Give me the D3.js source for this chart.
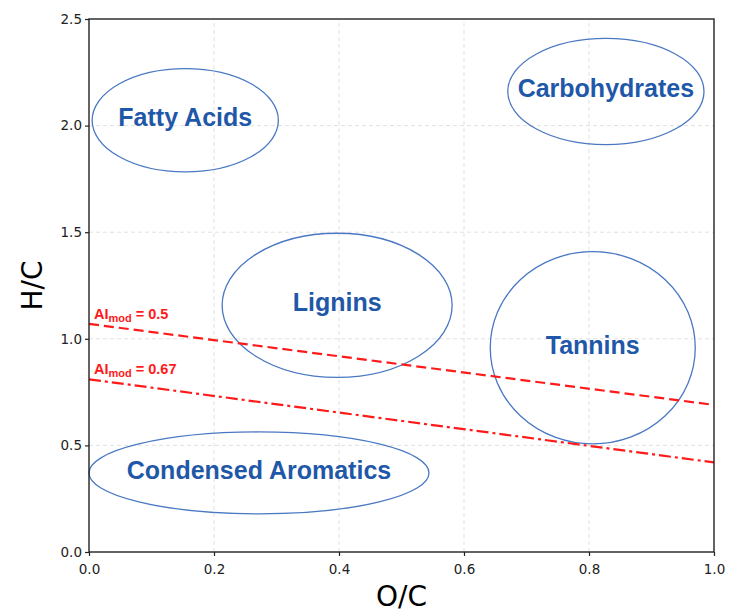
<!DOCTYPE html>
<html>
  <head>
    <meta charset="utf-8">
    <title></title>
    <style>
      body { margin: 0; background: #fff; }
      text { font-family: "DejaVu Sans", sans-serif; }
    </style>
  </head>
  <body>
    <div id="chart"></div>
    <script src="https://d3js.org/d3.v7.min.js"></script>
    <script>
      // compound classes drawn as ellipses (centre + radii in O/C, H/C units)
      const regions = ['Fatty Acids', 'Carbohydrates', 'Lignins', 'Tannins', 'Condensed Aromatics']
      const regionCx = [0.154, 0.827, 0.397, 0.806, 0.272]
      const regionCy = [2.025, 2.16, 1.157, 0.958, 0.371]
      const regionRx = [0.149, 0.157, 0.184, 0.164, 0.272]
      const regionRy = [0.242, 0.249, 0.338, 0.451, 0.192]

      // AImod threshold lines
      const aiValues = ['0.5', '0.67']
      const aiStart = [1.07, 0.81]   // H/C at O/C = 0
      const aiEnd = [0.69, 0.42]     // H/C at O/C = 1

      const xTicks = [0, 0.2, 0.4, 0.6, 0.8, 1.0]
      const yTicks = [0, 0.5, 1.0, 1.5, 2.0, 2.5]

      const width = 730
      const height = 615
      const margin = {top: 19, right: 16, bottom: 63, left: 89}

      const svg = d3.select('#chart')
                    .append('svg')
                    .attr('width', width)
                    .attr('height', height)

      const x = d3.scaleLinear().domain([0, 1]).range([margin.left, width - margin.right])
      const y = d3.scaleLinear().domain([0, 2.5]).range([height - margin.bottom, margin.top])

      // grid
      const grid = svg.append('g')
      grid.selectAll('.gx').data(xTicks.slice(1, -1)).enter()
        .append('line')
        .attr('x1', d => x(d)).attr('x2', d => x(d))
        .attr('y1', y(0)).attr('y2', y(2.5))
        .attr('stroke', '#d9d9d9').attr('stroke-dasharray', '4,3').attr('stroke-width', 0.8)
      grid.selectAll('.gy').data(yTicks.slice(1, -1)).enter()
        .append('line')
        .attr('y1', d => y(d)).attr('y2', d => y(d))
        .attr('x1', x(0)).attr('x2', x(1))
        .attr('stroke', '#d9d9d9').attr('stroke-dasharray', '4,3').attr('stroke-width', 0.8)

      // ellipses
      const reg = svg.append('g')
      reg.selectAll('ellipse').data(regions).enter()
        .append('ellipse')
        .attr('cx', (d, i) => x(regionCx[i]))
        .attr('cy', (d, i) => y(regionCy[i]))
        .attr('rx', (d, i) => x(regionRx[i]) - x(0))
        .attr('ry', (d, i) => y(0) - y(regionRy[i]))
        .attr('fill', 'none')
        .attr('stroke', '#4a78c2')
        .attr('stroke-width', 1.3)
      reg.selectAll('text').data(regions).enter()
        .append('text')
        .attr('x', (d, i) => x(regionCx[i]))
        .attr('y', (d, i) => y(regionCy[i]) + 6)
        .attr('text-anchor', 'middle')
        .style('font-family', '"Liberation Sans", Arial, sans-serif')
        .attr('font-weight', 'bold')
        .attr('font-size', 25)
        .attr('fill', '#1f58a8')
        .text(d => d)

      // AI lines
      const line = d3.line().x(d => x(d[0])).y(d => y(d[1]))
      const dashes = ['10,5', '12,4,3,4']
      aiValues.forEach((v, i) => {
        svg.append('path')
          .attr('d', line([[0, aiStart[i]], [1, aiEnd[i]]]))
          .attr('fill', 'none')
          .attr('stroke', '#ff1a1a')
          .attr('stroke-width', 2.2)
          .attr('stroke-dasharray', dashes[i])
        const t = svg.append('text')
          .attr('x', x(0) + 5)
          .attr('y', y(aiStart[i]) - 5)
          .style('font-family', '"Liberation Sans", Arial, sans-serif')
          .attr('font-weight', 'bold')
          .attr('font-size', 14.5)
          .attr('fill', '#ff1a1a')
        t.append('tspan').text('AI')
        t.append('tspan').attr('font-size', 11).attr('dy', 3).text('mod')
        t.append('tspan').attr('dy', -3).text(' = ' + v)
      })

      // axes
      const xAxis = svg.append('g')
        .attr('transform', `translate(0,${y(0)})`)
        .call(d3.axisBottom(x).tickValues(xTicks).tickFormat(d3.format('.1f')).tickSizeOuter(0).tickSize(4))
      const yAxis = svg.append('g')
        .attr('transform', `translate(${x(0)},0)`)
        .call(d3.axisLeft(y).tickValues(yTicks).tickFormat(d3.format('.1f')).tickSizeOuter(0).tickSize(4))
      ;[xAxis, yAxis].forEach(a => {
        a.selectAll('text').attr('font-family', '"DejaVu Sans", sans-serif').attr('font-size', 13.5).attr('fill', '#222')
        a.selectAll('line').attr('stroke', '#222').attr('stroke-width', 1.2)
        a.select('.domain').remove()
      })
      xAxis.selectAll('text').attr('dy', '1.1em')

      // frame
      svg.append('rect')
        .attr('x', x(0)).attr('y', y(2.5))
        .attr('width', x(1) - x(0)).attr('height', y(0) - y(2.5))
        .attr('fill', 'none').attr('stroke', '#222').attr('stroke-width', 1.4)

      svg.append('text')
        .attr('x', (x(0) + x(1)) / 2)
        .attr('y', 606)
        .attr('text-anchor', 'middle')
        .attr('font-size', 28)
        .text('O/C')
      svg.append('text')
        .attr('transform', `translate(42,${(y(0) + y(2.5)) / 2}) rotate(-90)`)
        .attr('text-anchor', 'middle')
        .attr('font-size', 28)
        .text('H/C')
    </script>
  </body>
</html>
